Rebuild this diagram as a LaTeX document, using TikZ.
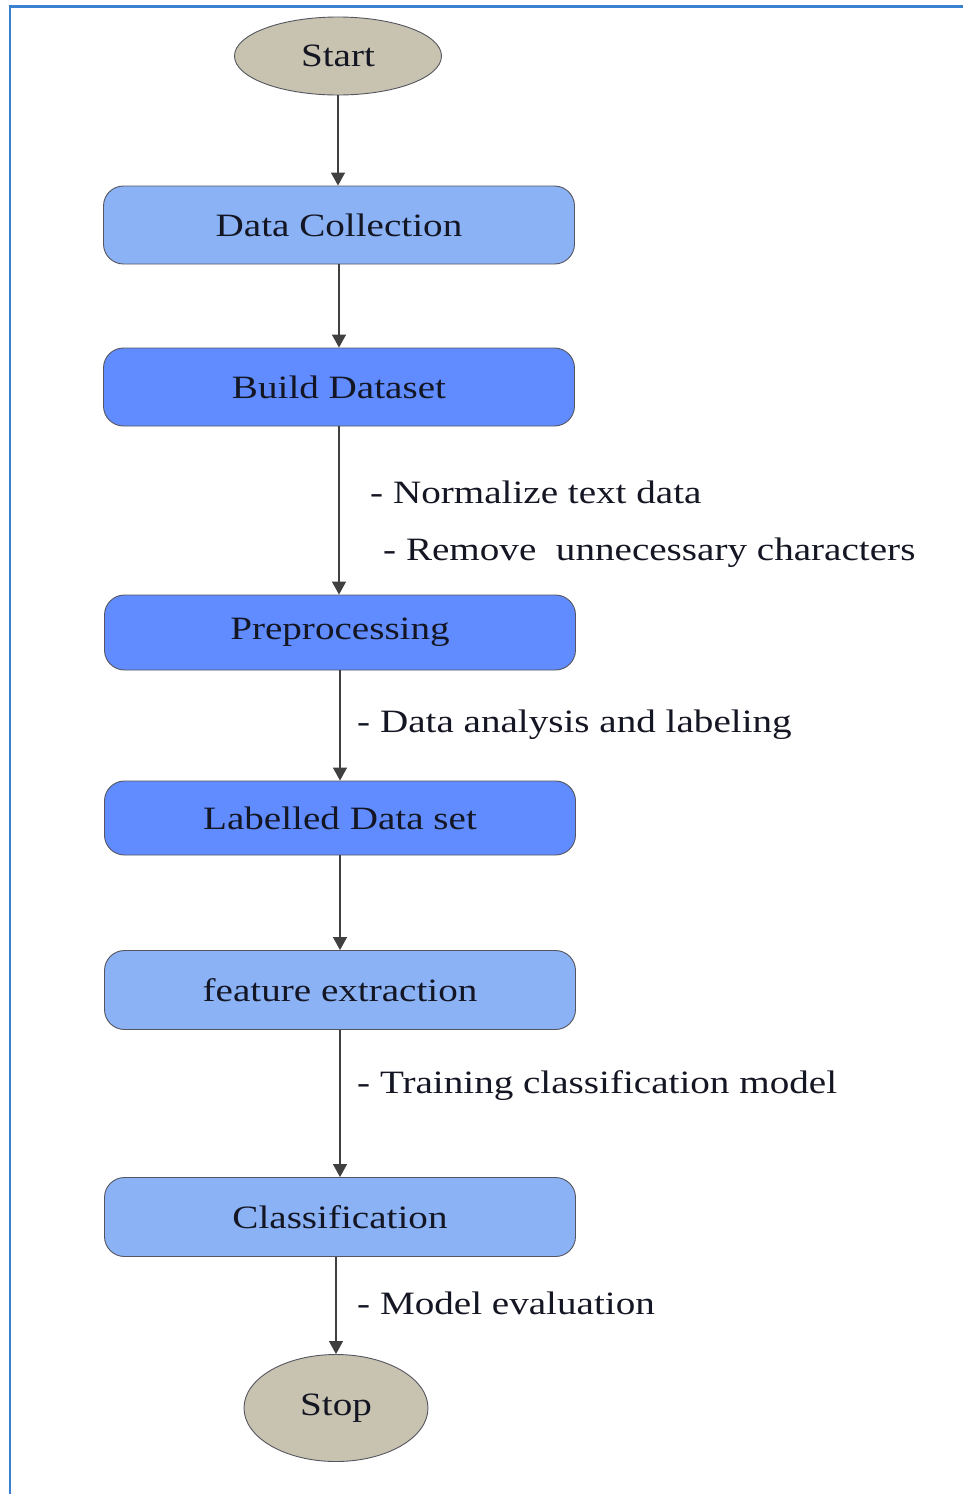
\documentclass[tikz,border=0pt]{standalone}
\usepackage{fontspec}
\setmainfont[FakeStretch=1.2]{Liberation Serif}
\usetikzlibrary{arrows.meta,shapes.geometric}
\definecolor{lightbox}{RGB}{138,178,245}
\definecolor{darkbox}{RGB}{96,140,255}
\definecolor{ovalfill}{RGB}{200,195,176}
\definecolor{frameblue}{RGB}{58,128,208}
\definecolor{edgegray}{RGB}{85,85,95}
\definecolor{inktext}{RGB}{20,22,35}
\tikzset{
  stepbox/.style={draw=edgegray, line width=0.9pt, rounded corners=20pt, minimum width=471pt, minimum height=78pt, inner sep=0pt, font=\fontsize{32.6}{36}\selectfont, text=inktext},
  lightstep/.style={stepbox, fill=lightbox},
  darkstep/.style={stepbox, fill=darkbox},
  oval/.style={ellipse, draw=edgegray, line width=0.9pt, fill=ovalfill, inner sep=0pt, font=\fontsize{32.6}{36}\selectfont, text=inktext},
  note/.style={anchor=west, inner sep=0pt, font=\fontsize{32.6}{36}\selectfont, text=inktext},
  flow/.style={draw=black!75, line width=1.3pt, -{Triangle[width=14pt,length=13pt]}}
}
\begin{document}
\begin{tikzpicture}[x=1pt,y=-1pt]
\fill[white] (0,0) rectangle (963,1494);
\useasboundingbox (0,0) rectangle (963,1494);
\draw[frameblue, line width=2.5pt] (10,1494) -- (10,6.5) -- (963,6.5);

\node[oval, minimum width=207pt, minimum height=78pt] (start) at (338,56) {Start};
\node[lightstep] (dc) at (339,225) {Data Collection};
\node[darkstep] (bd) at (339,387) {Build Dataset};
\node[darkstep, minimum height=75pt] (pp) at (340,632.5) {Preprocessing};
\node[darkstep, minimum height=74pt] (ld) at (340,818) {Labelled Data set};
\node[lightstep, minimum height=79pt] (fe) at (340,990) {feature extraction};
\node[lightstep, minimum height=79pt] (cl) at (340,1217) {Classification};
\node[oval, minimum width=184pt, minimum height=107pt] (stop) at (336,1408) {Stop};

\node[note] (n1) at (370,492) {- Normalize text data};
\node[note] (n2) at (383,553) {- Remove\ \ unnecessary characters};
\node[note] (n3) at (357,725) {- Data analysis and labeling};
\node[note] (n4) at (357,1086) {- Training classification model};
\node[note] (n5) at (357,1303) {- Model evaluation};

\draw[flow] (start.south) -- (start.south |- dc.north);
\draw[flow] (dc.south) -- (bd.north);
\draw[flow] (bd.south) -- (bd.south |- pp.north);
\draw[flow] (pp.south) -- (ld.north);
\draw[flow] (ld.south) -- (fe.north);
\draw[flow] (fe.south) -- (cl.north);
\draw[flow] (cl.south -| stop.north) -- (stop.north);
\end{tikzpicture}
\end{document}
